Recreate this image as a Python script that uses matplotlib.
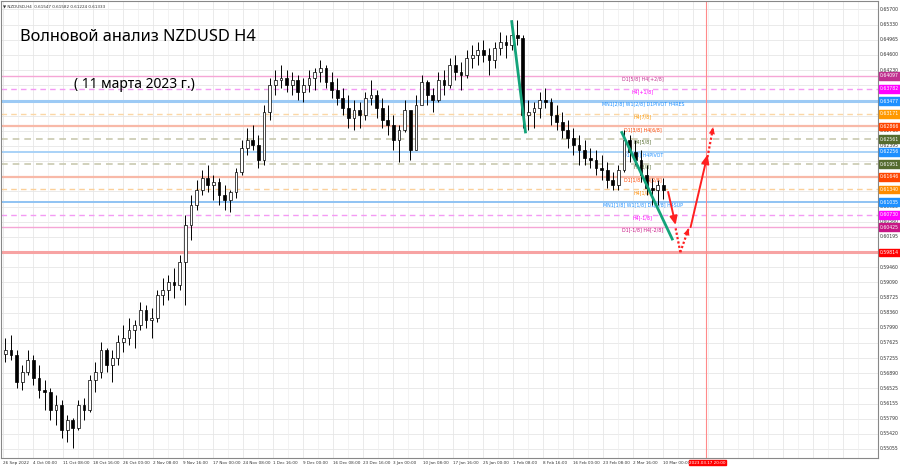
import matplotlib
matplotlib.use("Agg")
import matplotlib.pyplot as plt
import matplotlib.transforms as mtrans

# ---- data ------------------------------------------------------------------
BARS_PER_CANDLE = 6   # one candle per trading day (6 x H4)
# prices in 1e-4 units
HIGH = [5774, 5781, 5745, 5709, 5745, 5733, 5709, 5672, 5653, 5636, 5624, 5588,
        5581, 5624, 5629, 5685, 5716, 5764, 5750, 5745, 5781, 5806, 5823, 5818,
        5861, 5854, 5847, 5890, 5920, 5927, 5944, 5975, 6072, 6120, 6157, 6181,
        6193, 6169, 6162, 6145, 6133, 6186, 6254, 6283, 6290, 6266, 6338, 6404,
        6423, 6435, 6423, 6418, 6411, 6404, 6423, 6428, 6447, 6435, 6418, 6404,
        6379, 6363, 6350, 6346, 6370, 6399, 6375, 6355, 6338, 6314, 6290, 6350,
        6314, 6363, 6411, 6399, 6379, 6418, 6423, 6452, 6459, 6442, 6471, 6484,
        6491, 6496, 6476, 6491, 6515, 6508, 6532, 6544, 6508, 6350, 6346, 6370,
        6379, 6355, 6338, 6321, 6302, 6283, 6266, 6254, 6234, 6229, 6217, 6200,
        6176, 6193, 6278, 6266, 6254, 6229, 6193, 6162, 6157, 6162]
LOW = [5716, 5721, 5653, 5648, 5685, 5660, 5629, 5600, 5576, 5564, 5532, 5522,
       5508, 5552, 5576, 5595, 5643, 5677, 5692, 5668, 5709, 5740, 5757, 5750,
       5794, 5798, 5774, 5813, 5854, 5866, 5871, 5890, 5854, 6011, 6084, 6120,
       6128, 6108, 6096, 6084, 6079, 6113, 6169, 6217, 6229, 6186, 6193, 6302,
       6363, 6379, 6370, 6363, 6350, 6346, 6370, 6375, 6394, 6379, 6355, 6338,
       6314, 6283, 6278, 6283, 6302, 6338, 6307, 6283, 6266, 6229, 6200, 6273,
       6205, 6229, 6350, 6338, 6321, 6346, 6363, 6379, 6399, 6375, 6404, 6428,
       6435, 6442, 6411, 6428, 6459, 6452, 6471, 6484, 6283, 6278, 6283, 6307,
       6331, 6290, 6278, 6258, 6234, 6217, 6193, 6193, 6186, 6169, 6157, 6137,
       6133, 6133, 6176, 6200, 6193, 6152, 6120, 6096, 6096, 6110]
CLOSE = [5745, 5733, 5668, 5692, 5721, 5677, 5648, 5643, 5600, 5612, 5552, 5576,
         5556, 5612, 5600, 5672, 5692, 5745, 5709, 5726, 5764, 5774, 5794, 5806,
         5842, 5818, 5823, 5878, 5890, 5910, 5903, 5958, 6048, 6096, 6133, 6162,
         6145, 6152, 6120, 6108, 6128, 6176, 6234, 6254, 6241, 6205, 6321, 6387,
         6399, 6404, 6387, 6399, 6370, 6387, 6404, 6418, 6428, 6394, 6375, 6355,
         6331, 6307, 6326, 6314, 6355, 6363, 6331, 6302, 6290, 6254, 6278, 6326,
         6229, 6338, 6394, 6363, 6350, 6399, 6387, 6435, 6418, 6411, 6452, 6459,
         6471, 6459, 6447, 6476, 6491, 6484, 6508, 6500, 6314, 6321, 6331, 6350,
         6346, 6314, 6297, 6278, 6258, 6241, 6229, 6210, 6205, 6186, 6181, 6157,
         6145, 6181, 6254, 6224, 6205, 6169, 6137, 6133, 6145, 6133]
FIRST_OPEN = 5735

# x labels every 32 H4 bars
DATE_LABELS = ["26 Sep 2022", "4 Oct 00:00", "11 Oct 08:00", "18 Oct 16:00",
               "26 Oct 00:00", "2 Nov 08:00", "9 Nov 16:00", "17 Nov 00:00",
               "24 Nov 08:00", "1 Dec 16:00", "9 Dec 00:00", "16 Dec 08:00",
               "23 Dec 16:00", "3 Jan 00:00", "10 Jan 08:00", "17 Jan 16:00",
               "25 Jan 00:00", "1 Feb 08:00", "8 Feb 16:00", "16 Feb 00:00",
               "23 Feb 08:00", "2 Mar 16:00", "10 Mar 00:00"]
PRICE_TICKS = [0.65700, 0.65330, 0.64965, 0.64600, 0.64230, 0.63865, 0.63495,
               0.63130, 0.62765, 0.62395, 0.62030, 0.61660, 0.61295, 0.60925,
               0.60560, 0.60195, 0.59825, 0.59460, 0.59090, 0.58725, 0.58360,
               0.57990, 0.57625, 0.57255, 0.56890, 0.56525, 0.56155, 0.55790,
               0.55420, 0.55055]

# Murrey levels
LEVEL_PRICE = [0.64097, 0.63782, 0.63477, 0.63171, 0.62866, 0.62561, 0.62256,
               0.61951, 0.61646, 0.61340, 0.61035, 0.60730, 0.60425, 0.59814]
LEVEL_TEXT = ["D1[5/8] H4[+2/8]", "H4[+1/8]", "MN1[2/8] W1[2/8] D1PIVOT H4RES",
              "H4[7/8]", "D1[3/8] H4[6/8]", "H4[5/8]", "D1[2/8] H4PIVOT",
              "H4[3/8]", "D1[1/8] H4[2/8]", "H4[1/8]",
              "MN1[1/8] W1[1/8] D1[0/8] H4SUP", "H4[-1/8]", "D1[-1/8] H4[-2/8]", ""]
LEVEL_TAG = ["#c0308f", "#ff00ff", "#1e90ff", "#ff9900", "#ff4500", "#556b2f",
             "#1e90ff", "#556b2f", "#ff4500", "#ff8c00", "#1e90ff", "#ff00ff",
             "#c71585", "#ff0000"]
LEVEL_LINE = ["#f5a6d6", "#f49af4", "#9ccaf5", "#fbd7a6", "#f8b9a8", "#c9c9b0",
              "#a9d2f7", "#c9c9b0", "#f8b9a8", "#fbd09a", "#8fc3f3", "#f49af4",
              "#f5a6d6", "#f7a3a3"]
LEVEL_LS = ["-", "--", "-", "--", "-", "--", "-", "--", "-", "--", "-", "--", "-", "-"]
LEVEL_LW = [1.0, 1.0, 2.2, 1.0, 1.6, 1.2, 1.4, 1.2, 1.6, 1.0, 1.4, 1.0, 1.0, 2.2]

# drawn wave lines (bar index, price)
GREEN_1 = [(543, 0.6544), (558, 0.6270)]
GREEN_2 = [(660, 0.6275), (715, 0.6011)]
RED_SOLID = [[(710, 0.6128), (718, 0.6048)], [(734, 0.6043), (752, 0.6218)]]
RED_DOTTED = [[(718, 0.6040), (723, 0.5982)], [(723, 0.5982), (732, 0.6040)],
              [(752, 0.6212), (758, 0.6285)]]
FUTURE_BAR = 750

# ---- figure ----------------------------------------------------------------
W, H = 900, 468
fig = plt.figure(figsize=(W / 100, H / 100), dpi=100)
ax = fig.add_axes([0.5 / W, 10 / H, 877 / W, 457 / H])
PX = 0.9375  # pixels per bar
ax.set_xlim(-2 / PX, 875 / PX)
ax.set_ylim(0.54836, 0.65905)

for s in ax.spines.values():
    s.set_color("#888888"); s.set_linewidth(0.8)

# grid
for p in PRICE_TICKS:
    ax.axhline(p, color="#e6e6e6", lw=0.6, zorder=0)
for i in range(len(DATE_LABELS) + 6):
    ax.axvline(i * 32, color="#e6e6e6", lw=0.6, zorder=0)
    ax.axvline(i * 32 + 16, color="#efefef", lw=0.5, zorder=0)

# levels
for p, c, ls, lw in zip(LEVEL_PRICE, LEVEL_LINE, LEVEL_LS, LEVEL_LW):
    if ls == "--":
        ax.axhline(p, color=c, lw=lw, zorder=1, ls=(0, (4, 3)))
    else:
        ax.axhline(p, color=c, lw=lw, zorder=1)
for p, t, c in zip(LEVEL_PRICE, LEVEL_TEXT, LEVEL_TAG):
    if t:
        ax.text(683, p - 0.00012, t, color=c, fontsize=3.4, ha="center", va="top", zorder=3)

# candles
n = len(CLOSE)
opens = [FIRST_OPEN] + CLOSE[:-1]
for k in range(n):
    xc = k * BARS_PER_CANDLE + BARS_PER_CANDLE / 2
    o, h, l, c = opens[k] / 1e4, HIGH[k] / 1e4, LOW[k] / 1e4, CLOSE[k] / 1e4
    ax.vlines(xc, l, h, color="black", lw=0.7, zorder=4)
    lo, hi = min(o, c), max(o, c)
    ax.bar(xc, max(hi - lo, 0.00005), bottom=lo, width=BARS_PER_CANDLE * 0.5,
           color="white" if c >= o else "black", edgecolor="black", lw=0.5, zorder=5)

# wave drawings
for seg in (GREEN_1, GREEN_2):
    ax.plot([seg[0][0], seg[1][0]], [seg[0][1], seg[1][1]], color="#14a37a", lw=2, zorder=6,
            solid_capstyle="butt")
for a, b in RED_SOLID:
    ax.annotate("", xy=b, xytext=a, zorder=7,
                arrowprops=dict(arrowstyle="-|>,head_length=0.5,head_width=0.22",
                                color="#ff2020", lw=1.4, shrinkA=0, shrinkB=0))
for i, (a, b) in enumerate(RED_DOTTED):
    ax.plot([a[0], b[0]], [a[1], b[1]], color="#ff2020", lw=1.6, ls=(0, (1, 1)), zorder=7)
    if i > 0:
        ax.annotate("", xy=b, xytext=((a[0] + b[0]) / 2, (a[1] + b[1]) / 2), zorder=7,
                    arrowprops=dict(arrowstyle="-|>,head_length=0.5,head_width=0.22",
                                    color="#ff2020", lw=0, shrinkA=0, shrinkB=0))
ax.axvline(FUTURE_BAR, color="#ff8a8a", lw=0.8, zorder=2)

# axes ticks / labels
ax.set_xticks([]); ax.set_yticks([])
right = mtrans.blended_transform_factory(ax.transAxes, ax.transData)
for p in PRICE_TICKS:
    if min(abs(p - q) for q in LEVEL_PRICE) < 0.0009:
        continue  # hidden under a coloured price tag
    ax.text(1.003, p, f"{p:.5f}", transform=right, fontsize=3.3, color="#333333",
            va="center", ha="left", clip_on=False)
for p, c in zip(LEVEL_PRICE, LEVEL_TAG):
    ax.text(1.003, p, f"{p:.5f}", transform=right, fontsize=3.3, color="white",
            va="center", ha="left", clip_on=False, zorder=10,
            bbox=dict(boxstyle="square,pad=0.3", fc=c, ec=c))
bottom = mtrans.blended_transform_factory(ax.transData, ax.transAxes)
for i, lab in enumerate(DATE_LABELS):
    ax.text(i * 32 + 1, -0.006, lab, transform=bottom, fontsize=3.0, color="#333333",
            ha="left", va="top", clip_on=False)
ax.text(FUTURE_BAR + 2, -0.006, "2023.03.17 20:00", transform=bottom, fontsize=3.0,
        color="white", ha="center", va="top", clip_on=False,
        bbox=dict(boxstyle="square,pad=0.12", fc="#ff0000", ec="#ff0000"))

# header + titles
ax.text(0.003, 0.993, "\u25bc NZDUSD,H4  0.61547 0.61582 0.61224 0.61333",
        transform=ax.transAxes, fontsize=3.0, color="#333333", va="top", ha="left")
ax.text(20 / 877, 1 - 36 / 457, "Волновой анализ NZDUSD H4", transform=ax.transAxes,
        fontsize=11.8, family="Noto Sans", color="black", va="center", ha="left")
ax.text(73 / 877, 1 - 83 / 457, "( 11 марта 2023 г.)", transform=ax.transAxes,
        fontsize=10, family="Noto Sans", color="black", va="center", ha="left")

fig.savefig("out.png", dpi=100, facecolor="white")
